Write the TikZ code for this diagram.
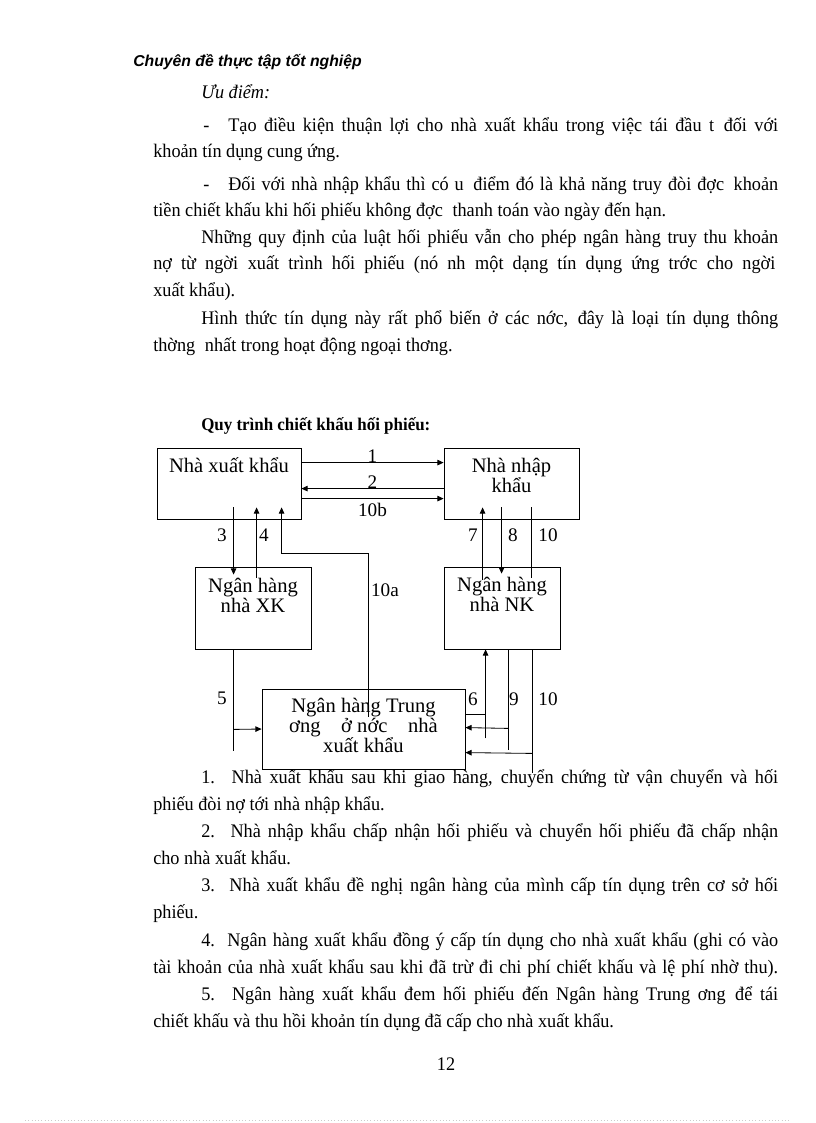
\documentclass[tikz,border=0pt]{standalone}
\usepackage{fontspec}
\setmainfont{Liberation Serif}[FakeStretch=0.95]
\newfontfamily\boxfont{Liberation Serif}
\newfontfamily\headfont{Liberation Sans}
\usetikzlibrary{arrows.meta,positioning,calc}
\def\pxu{0.7295pt}
\newlength\wfull \setlength\wfull{455.9pt}
\newlength\wdash \setlength\wdash{401.2pt}
\newlength\wind  \setlength\wind{420.9pt}
\newcommand{\gap}{\hspace{0.5em}}
\tikzset{
  txt/.style={anchor=base west, inner sep=0pt, font=\fontsize{14}{16}\selectfont},
  box/.style={draw, rectangle, inner sep=0pt, line width=0.6pt},
  boxtxt/.style={anchor=north, inner sep=0pt, align=center, font=\boxfont\fontsize{15}{14.8}\selectfont},
  num/.style={inner sep=0pt, font=\boxfont\fontsize{14}{14}\selectfont},
  wire/.style={line width=0.6pt},
  arr/.style={wire, -{Triangle[length=4.5pt, width=4pt]}},
}
\begin{document}
\begin{tikzpicture}[x=0.7295pt, y=-0.7295pt]
\fill[white] (0,0) rectangle (816,1123);
\useasboundingbox (0,0) rectangle (816,1123);
% header and text above the diagram
\node[txt, font=\headfont\bfseries\itshape\fontsize{11.5}{14}\selectfont] (head) at (133,66) {Chuyên đề thực tập tốt nghiệp};
\node[txt] (uu) at (201,98) {\itshape Ưu điểm:};
\node[txt] (d1) at (203,131) {-};
\node[txt] (p1a) at (228,131) {\makebox[\wdash][s]{Tạo điều kiện thuận lợi cho nhà xuất khẩu trong việc tái đầu t\gap đối với}};
\node[txt] (p1b) at (153,157) {khoản tín dụng cung ứng.};
\node[txt] (d2) at (203,190) {-};
\node[txt] (p2a) at (228,190) {\makebox[\wdash][s]{Đối với nhà nhập khẩu thì có u\gap điểm đó là khả năng truy đòi đợc\gap khoản}};
\node[txt] (p2b) at (153,216) {tiền chiết khấu khi hối phiếu không đợc\gap thanh toán vào ngày đến hạn.};
\node[txt] (p3a) at (201,243) {\makebox[\wind][s]{Những quy định của luật hối phiếu vẫn cho phép ngân hàng truy thu khoản}};
\node[txt] (p3b) at (153,269) {\makebox[453.8pt][s]{nợ từ ngời\gap xuất trình hối phiếu (nó nh\gap một dạng tín dụng ứng trớc\gap cho ngời}};
\node[txt] (p3c) at (153,296) {xuất khẩu).};
\node[txt] (p4a) at (201,324) {\makebox[\wind][s]{Hình thức tín dụng này rất phổ biến ở các nớc,\gap đây là loại tín dụng thông}};
\node[txt] (p4b) at (153,351) {thờng\gap nhất trong hoạt động ngoại thơng.};
\node[txt, font=\bfseries\fontsize{13}{16}\selectfont] (title) at (201,430) {Quy trình chiết khấu hối phiếu:};
% boxes
\node[box, minimum width=144*\pxu, minimum height=71*\pxu] (nxk) at (229,483.5) {};
\node[box, minimum width=135*\pxu, minimum height=71*\pxu] (nnk) at (511.5,483.5) {};
\node[box, minimum width=116*\pxu, minimum height=82*\pxu] (xkb) at (253,608) {};
\node[box, minimum width=116*\pxu, minimum height=82*\pxu] (nkb) at (502,608) {};
\node[box, minimum width=203*\pxu, minimum height=80*\pxu] (tw) at (363.5,729) {};
\node[boxtxt, below=7pt of nxk.north] (nxkt) {Nhà xuất khẩu};
\node[boxtxt, below=7.5pt of nnk.north] (nnkt) {Nhà nhập\\khẩu};
\node[boxtxt, below=8pt of xkb.north] (xkbt) {Ngân hàng\\nhà XK};
\node[boxtxt, below=7.5pt of nkb.north] (nkbt) {Ngân hàng\\nhà NK};
\node[boxtxt, below=6.5pt of tw.north] (twt) {Ngân hàng Trung\\ơng\hspace{1em}ở nớc\hspace{1em}nhà\\xuất khẩu};
% top row
\draw[arr] ($(nxk.north east)+(0,15)$) -- node[num, above=-0.5pt] (n1) {1} ($(nnk.north west)+(0,15)$);
\draw[arr] ($(nnk.north west)+(0,41)$) -- node[num, above=-0.5pt] (n2) {2} ($(nxk.north east)+(0,41)$);
\draw[arr] ($(nxk.north east)+(0,51)$) -- node[num, below=3pt] (n10b) {10b} ($(nnk.north west)+(0,51)$);
% exporter side
\draw[arr] ($(nxk.south west)+(77,-12)$) -- ($(xkb.north west)+(39,8)$);
\draw[arr] ($(xkb.north west)+(62,11)$) -- ($(nxk.south west)+(100,-12)$);
\draw[arr] ($(tw.north west)+(107,28)$) |- ($(nxk.south west)+(125,34)$) -- ($(nxk.south west)+(125,-12)$);
\node[num] (n3) at (222,535) {3};
\node[num] (n4) at (264,535) {4};
\node[num] (n10a) at (385,590) {10a};
% importer side
\draw[arr] ($(nkb.north west)+(39,13)$) -- ($(nnk.south west)+(39,-12)$);
\draw[arr] ($(nnk.south west)+(58,-12)$) -- ($(nkb.north west)+(58,7)$);
\draw[wire] ($(nnk.south west)+(88,-12)$) -- ($(nkb.north west)+(88,11)$);
\node[num] (n7) at (473,535) {7};
\node[num] (n8) at (513,535) {8};
\node[num] (n10) at (548,535) {10};
% to central bank
\draw[wire] ($(xkb.south west)+(39,0)$) -- ++(0,102);
\draw[arr] ($(xkb.south west)+(39,80)$) -- (tw.west);
\node[num] (n5) at (222,698) {5};
\draw[wire] ($(tw.north east)+(0,26)$) -- ++(21,0);
\draw[arr] ($(nkb.south west)+(42,89)$) -- ($(nkb.south west)+(42,0)$);
\draw[wire] ($(nkb.south west)+(65,0)$) -- ++(0,101);
\draw[arr] ($(nkb.south west)+(65,79)$) -- ($(tw.north east)+(0,39)$);
\draw[wire] ($(nkb.south west)+(89,0)$) -- ++(0,124);
\draw[arr] ($(nkb.south west)+(89,104)$) -- ($(tw.north east)+(0,64)$);
\node[num] (n6) at (473,699) {6};
\node[num] (n9) at (514,699) {9};
\node[num] (n10c) at (548,699) {10};
% text below the diagram
\node[txt] (q1a) at (201,783) {\makebox[\wind][s]{1.\hspace{0.1em} Nhà xuất khẩu sau khi giao hàng, chuyển chứng từ vận chuyển và hối}};
\node[txt] (q1b) at (153,810) {phiếu đòi nợ tới nhà nhập khẩu.};
\node[txt] (q2a) at (201,837) {\makebox[\wind][s]{2.\hspace{0.1em} Nhà nhập khẩu chấp nhận hối phiếu và chuyển hối phiếu đã chấp nhận}};
\node[txt] (q2b) at (153,864) {cho nhà xuất khẩu.};
\node[txt] (q3a) at (201,891) {\makebox[\wind][s]{3.\hspace{0.1em} Nhà xuất khẩu đề nghị ngân hàng của mình cấp tín dụng trên cơ sở hối}};
\node[txt] (q3b) at (153,918) {phiếu.};
\node[txt] (q4a) at (201,946) {\makebox[\wind][s]{4.\hspace{0.1em} Ngân hàng xuất khẩu đồng ý cấp tín dụng cho nhà xuất khẩu (ghi có vào}};
\node[txt] (q4b) at (153,973) {\makebox[\wfull][s]{tài khoản của nhà xuất khẩu sau khi đã trừ đi chi phí chiết khấu và lệ phí nhờ thu).}};
\node[txt] (q5a) at (201,1000) {\makebox[\wind][s]{5.\hspace{0.1em} Ngân hàng xuất khẩu đem hối phiếu đến Ngân hàng Trung ơng\gap để tái}};
\node[txt] (q5b) at (153,1027) {chiết khấu và thu hồi khoản tín dụng đã cấp cho nhà xuất khẩu.};
\node[txt, anchor=base] (page) at (446,1070) {12};
\draw[gray!40, dotted] (25,1120) -- (790,1120);
\end{tikzpicture}
\end{document}
